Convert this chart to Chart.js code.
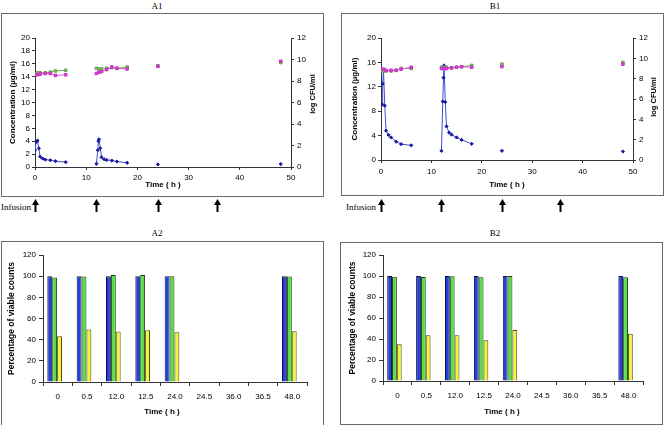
<!DOCTYPE html>
<html><head><meta charset="utf-8">
<script src="https://cdn.jsdelivr.net/npm/chart.js@4.4.0/dist/chart.umd.min.js"></script>
<style>
html,body{margin:0;padding:0;background:#fff;}
body{width:664px;height:425px;position:relative;overflow:hidden;}
.frame{position:absolute;border:1.5px solid #6a6a6a;box-sizing:border-box;}
.ttl{position:absolute;font-family:"Liberation Serif","Times New Roman",serif;font-size:9px;color:#000;transform:translate(-50%,-50%);white-space:nowrap;line-height:1;}
.inf{position:absolute;font-family:"Liberation Serif","Times New Roman",serif;font-size:9px;color:#000;white-space:nowrap;line-height:1;}
canvas{position:absolute;}
</style></head><body>
<div class="frame" style="left:1px;top:13px;width:323px;height:184px"></div>
<div class="frame" style="left:341px;top:13px;width:323px;height:183px"></div>
<div class="frame" style="left:1px;top:241px;width:323px;height:186px"></div>
<div class="frame" style="left:340px;top:242px;width:323px;height:183px"></div>
<div class="ttl" style="left:157px;top:6px">A1</div>
<div class="ttl" style="left:495px;top:6px">B1</div>
<div class="ttl" style="left:157px;top:233px">A2</div>
<div class="ttl" style="left:495px;top:233px">B2</div>
<div class="inf" style="left:1px;top:203px">Infusion</div>
<div class="inf" style="left:346px;top:203px">Infusion</div>
<canvas id="a1" width="332" height="215" style="left:0;top:0"></canvas>
<canvas id="b1" width="332" height="215" style="left:332px;top:0"></canvas>
<canvas id="a2" width="332" height="210" style="left:0;top:215px"></canvas>
<canvas id="b2" width="332" height="210" style="left:332px;top:215px"></canvas>
<script>
// ---- data ----
const infusionTimes = [0, 12, 24, 35.5];

const concTimeA1 = [0,0.25,0.5,0.75,1,1.5,2,3,4,6,null,12,12.25,12.4,12.5,12.75,13,13.5,14,15,16,18,null,24,null,48];
const concA1 = [2.6,3.9,4.1,2.9,1.6,1.3,1.15,1.05,0.9,0.75,null,0.5,2.6,4.0,4.3,2.9,1.5,1.2,1.1,1.0,0.85,0.65,null,0.4,null,0.45];
const concTimeB1 = [0.25,0.33,0.5,0.75,1,1.5,2,3,4,6,null,12,12.25,12.4,12.5,12.75,13,13.5,14,15,16,18,null,24,null,48];
const concB1 = [9.1,12.5,14.6,8.9,4.8,4.1,3.7,3.0,2.6,2.4,null,1.5,9.6,13.5,15.5,9.5,5.5,4.5,4.15,3.7,3.3,2.65,null,1.5,null,1.4];

const cfuTime = [0,0.5,1,2,3,4,6,null,12,12.5,13,14,15,16,18,null,24,null,48];
const cfuGreenA1 = [8.70,8.76,8.76,8.76,8.82,8.94,9.00,null,9.18,9.12,9.12,9.18,9.24,9.18,9.30,null,9.42,null,9.72];
const cfuMagentaA1 = [8.52,8.58,8.64,8.70,8.70,8.52,8.58,null,8.70,8.82,8.88,9.06,9.30,9.18,9.12,null,9.36,null,9.84];
const cfuGreenB1 = [8.76,8.76,8.76,8.76,8.82,9.00,9.00,null,9.12,9.12,9.12,9.06,9.12,9.18,9.30,null,9.42,null,9.60];
const cfuMagentaB1 = [8.94,8.94,8.82,8.82,8.82,8.94,9.12,null,9.00,9.00,9.00,9.06,9.12,9.18,9.12,null,9.18,null,9.42];

const barCategories = ['0','0.5','12.0','12.5','24.0','24.5','36.0','36.5','48.0'];
const blueA2 = [100,100,100,100,100,null,null,null,100];
const greenA2 = [98.8,99.8,101,101,100,null,null,null,99.8];
const yellowA2 = [43.3,49.6,47.7,49,47,null,null,null,48];
const blueB2 = [100,100,100,100,100,null,null,null,100];
const greenB2 = [99.4,99,99.7,98.7,100,null,null,null,98.7];
const yellowB2 = [35,43.5,43.5,38.7,48.6,null,null,null,45];

// ---- helpers ----
const SANS = '"Liberation Sans", Arial, sans-serif';
const tickFont = {family: SANS, size: 8};
const boldFont = (s) => ({family: SANS, size: s, weight: 'bold'});

function toPoints(times, vals) {
  return times.map((t, i) => t === null
    ? {x: (times[i-1] + times[i+1]) / 2, y: null}
    : {x: t, y: vals[i]});
}

function textPlugin(items) {
  return {
    id: 'extraText',
    afterDraw(chart) {
      const ctx = chart.ctx;
      items.forEach(it => {
        ctx.save();
        ctx.translate(it.x, it.y);
        if (it.rot) ctx.rotate(it.rot);
        ctx.font = it.font;
        ctx.fillStyle = '#000';
        ctx.textAlign = 'center';
        ctx.textBaseline = 'middle';
        ctx.fillText(it.text, 0, 0);
        ctx.restore();
      });
    }
  };
}

function arrowPlugin(topY) {
  return {
    id: 'arrows',
    afterDraw(chart) {
      const ctx = chart.ctx, xs = chart.scales.x;
      ctx.save();
      ctx.fillStyle = '#000';
      infusionTimes.forEach(t => {
        const px = Math.round(xs.getPixelForValue(t)) + 0.5;
        ctx.beginPath();
        ctx.moveTo(px, topY);
        ctx.lineTo(px - 3.5, topY + 6);
        ctx.lineTo(px + 3.5, topY + 6);
        ctx.closePath();
        ctx.fill();
        ctx.fillRect(px - 1, topY + 5, 2, 8);
      });
      ctx.restore();
    }
  };
}

function lineChart(id, concTimes, conc, green, magenta, c) {
  new Chart(document.getElementById(id), {
    type: 'line',
    data: {
      datasets: [
        {data: toPoints(cfuTime, magenta), yAxisID: 'yR', borderColor: '#e050e0', backgroundColor: '#f040e8',
         pointBorderColor: '#c030c0', pointStyle: 'rect', pointRadius: 1.8, borderWidth: 1, spanGaps: false},
        {data: toPoints(cfuTime, green), yAxisID: 'yR', borderColor: '#60c040', backgroundColor: '#84d45a',
         pointBorderColor: '#6a9a50', pointStyle: 'rect', pointRadius: 1.8, borderWidth: 1, spanGaps: false},
        {data: toPoints(concTimes, conc), yAxisID: 'y', borderColor: '#4050d0', backgroundColor: '#1a1aa0',
         pointBorderColor: '#1a1aa0', pointStyle: 'rectRot', pointRadius: 1.6, borderWidth: 1, spanGaps: false}
      ]
    },
    options: {
      responsive: false, animation: false, events: [],
      layout: {padding: {left: c.pl, right: 0, top: 38, bottom: 25}},
      plugins: {legend: {display: false}, tooltip: {enabled: false}},
      scales: {
        x: {type: 'linear', min: 0, max: 50,
            ticks: {stepSize: 10, font: tickFont, color: '#000', padding: c.xp, maxRotation: 0},
            grid: {drawOnChartArea: false, tickLength: 3, color: '#333'}, border: {color: '#333'},
            title: {display: true, text: 'Time ( h )', font: boldFont(8), color: '#000', padding: 0},
            afterFit: s => { s.height = c.xh; }},
        y: {position: 'left', min: 0, max: 20,
            ticks: {stepSize: 2, font: tickFont, color: '#000', padding: 2},
            grid: {drawOnChartArea: false, tickLength: 3, color: '#333'}, border: {color: '#333'},
            title: {display: true, text: 'Concentration (µg/ml)', font: boldFont(8), color: '#000', padding: 0},
            afterFit: s => { s.width = c.lw; }},
        yR: {position: 'right', min: 0, max: 12,
            ticks: {stepSize: 2, font: tickFont, color: '#000', padding: 3},
            grid: {drawOnChartArea: false, tickLength: 3, color: '#333'}, border: {color: '#333'},
            afterFit: s => { s.width = c.rw; }}
      }
    },
    plugins: [arrowPlugin(199),
      textPlugin([{text: 'log CFU/ml', x: c.rtx, y: c.rty, rot: -Math.PI/2, font: 'bold 7.5px ' + SANS}])]
  });
}

const barShift = {
  id: 'barShift',
  beforeDatasetsDraw(chart) { chart.ctx.save(); chart.ctx.translate(-3, 0); },
  afterDatasetsDraw(chart) { chart.ctx.restore(); }
};

function barChart(id, blue, green, yellow, c) {
  new Chart(document.getElementById(id), {
    type: 'bar',
    data: {
      labels: barCategories,
      datasets: [
        {data: blue, backgroundColor: '#2240dc', borderColor: '#10103a', borderWidth: 1},
        {data: green, backgroundColor: '#56e046', borderColor: '#1c3a10', borderWidth: 1},
        {data: yellow, backgroundColor: '#f4f43e', borderColor: '#4a4a10', borderWidth: 1}
      ]
    },
    options: {
      responsive: false, animation: false, events: [],
      layout: {padding: {left: c.pl, right: c.pr, top: 40, bottom: c.pb}},
      plugins: {legend: {display: false}, tooltip: {enabled: false}},
      datasets: {bar: {categoryPercentage: 0.5, barPercentage: 1}},
      scales: {
        x: {ticks: {font: tickFont, color: '#000', padding: 6, autoSkip: false, maxRotation: 0},
            grid: {drawOnChartArea: false, tickLength: 4, color: '#333', offset: true}, border: {color: '#333'},
            afterFit: s => { s.height = 35; }},
        y: {min: 0, max: 120,
            ticks: {stepSize: 20, font: tickFont, color: '#000', padding: 3},
            grid: {drawOnChartArea: false, tickLength: 4, color: '#333'}, border: {color: '#333'},
            title: {display: true, text: 'Percentage of viable counts', font: boldFont(8.5), color: '#000', padding: 0},
            afterFit: s => { s.width = c.lw; }}
      }
    },
    plugins: [barShift, textPlugin([{text: 'Time ( h )', x: c.tx, y: 197, font: 'bold 8px ' + SANS}])]
  });
}

lineChart('a1', concTimeA1, concA1, cfuGreenA1, cfuMagentaA1,
  {pl: 8, lw: 27, rw: 41, xh: 23, xp: 3, rtx: 313, rty: 94});
lineChart('b1', concTimeB1, concB1, cfuGreenB1, cfuMagentaB1,
  {pl: 18, lw: 31, rw: 31, xh: 30, xp: 4, rtx: 322, rty: 97});
barChart('a2', blueA2, greenA2, yellowA2, {pl: 7, lw: 36, pr: 25, pb: 8, tx: 162});
barChart('b2', blueB2, greenB2, yellowB2, {pl: 16, lw: 35, pr: 21, pb: 9, tx: 170});
</script>
</body></html>
